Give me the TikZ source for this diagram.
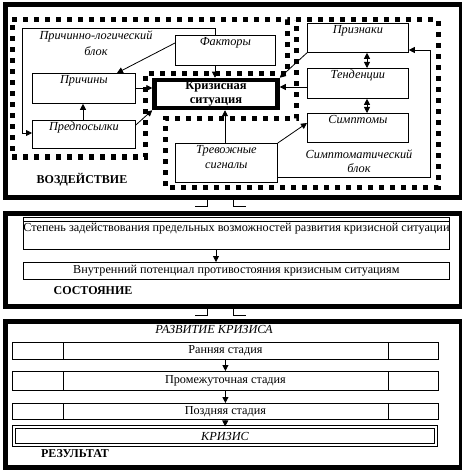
\documentclass[tikz,border=0pt]{standalone}
\usepackage{fontspec}
\setmainfont{Liberation Serif}
\usetikzlibrary{arrows.meta,calc}
\begin{document}
\begin{tikzpicture}[x=1pt,y=-1pt,
  frm/.style={draw, line width=5pt, inner sep=0pt, minimum width=456pt, anchor=north west},
  blk/.style={line width=5pt, dash pattern=on 5pt off 6pt},
  bx/.style={draw, line width=0.8pt, inner sep=0pt, anchor=north west},
  ln/.style={line width=0.8pt},
  arr/.style={ln, -{Triangle[length=6pt,width=6pt]}},
  darr/.style={ln, {Triangle[length=6pt,width=6pt]}-{Triangle[length=6pt,width=6pt]}},
  it/.style={font=\fontsize{12.3}{14}\selectfont\itshape, inner sep=0pt, align=center},
  rm/.style={font=\fontsize{12.2}{14}\selectfont, inner sep=0pt, align=center},
  ttl/.style={font=\fontsize{12}{14}\selectfont\bfseries, inner sep=0pt},
  lab/.style={it, anchor=north, yshift=-2pt}
]
\fill[white] (0,0) rectangle (461,473);
\useasboundingbox (0,0) rectangle (461,473);

% ---------- frame 1 ----------
\node[frm, minimum height=192pt] (f1) at (2.5,2.5) {};
\draw[blk] (12,20) -- (287,20) -- (287,74) -- (145,74) -- (145,157) -- (12,157) -- cycle;
\draw[blk] (296,20) -- (438,20) -- (438,187) -- (165,187) -- (165,119) -- (296,119) -- cycle;

\node[it, anchor=north, align=center, font=\fontsize{12.3}{16}\selectfont\itshape] (plb) at (96,31) {Причинно-логический\\блок};

\node[bx, minimum width=100pt, minimum height=30pt, label={[lab]north:Факторы}] (fak) at (175,35) {};
\node[bx, minimum width=103pt, minimum height=30pt, label={[lab]north:Причины}] (prc) at (32,73) {};
\node[bx, minimum width=103pt, minimum height=28pt, label={[lab]north:Предпосылки}] (prd) at (32,120) {};
\node[draw, line width=4.5pt, minimum width=123pt, minimum height=28pt, inner sep=0pt, align=center,
      font=\fontsize{12.5}{13.5}\selectfont\bfseries] (krz) at (216,94) {Кризисная\\ситуация};
\node[bx, minimum width=102pt, minimum height=39pt, label={[lab, font=\fontsize{12.3}{15}\selectfont\itshape]north:Тревожные\\сигналы}] (trv) at (175,143) {};
\node[bx, minimum width=101pt, minimum height=29pt, label={[lab]north:Признаки}] (prz) at (307,23) {};
\node[bx, minimum width=101pt, minimum height=30pt, label={[lab]north:Тенденции}] (ten) at (307,68) {};
\node[bx, minimum width=101pt, minimum height=29pt, label={[lab]north:Симптомы}] (smp) at (307,113) {};

\node[it, anchor=north] (smb) at (359,150) {Симптоматический\\блок};
\node[ttl] (vozd) at (82,180) {ВОЗДЕЙСТВИЕ};

% arrows frame 1
\draw[arr] (fak.south -| 215,0) -- (krz.north -| 215,0);
\coordinate (fbA) at (215,28);
\coordinate (fbB) at (22,28);
\draw[arr] (fak.north -| 215,0) -- (fbA) -- (fbB) |- (prd.west |- 0,133);
\draw[arr] (fak.west |- 0,43) -- (prc.north -| 117,0);
\draw[arr] (prc.east |- 0,88) -- (krz.west |- 0,88);
\draw[arr] (prd.north -| 83,0) -- (prc.south -| 83,0);
\draw[arr] (prd.east |- 0,125) -- (krz.south west);
\draw[arr] (prz.south west) -- (krz.north east);
\draw[arr] (ten.west |- 0,87) -- (krz.east |- 0,87);
\draw[arr] (trv.north -| 225,0) -- (krz.south -| 225,0);
\draw[arr] (trv.north east) -- (smp.west |- 0,123);
\coordinate (fcA) at (430,177);
\draw[arr] (trv.east |- 0,177) -- (fcA) |- (prz.east |- 0,50);
\draw[darr] (prz.south -| 367,0) -- (ten.north -| 367,0);
\draw[darr] (ten.south -| 367,0) -- (smp.north -| 367,0);

% ---------- frame 2 ----------
\node[frm, minimum height=93pt] (f2) at (2.5,210.5) {};
\node[bx, minimum width=426pt, minimum height=32pt,
      label={[rm, anchor=north, yshift=-6pt]north:Степень задействования предельных возможностей развития кризисной ситуации}] (st) at (23,217) {};
\draw[ln] ($(st.north west)+(0,4)$) -- ($(st.north east)+(0,4)$);
\node[bx, rm, minimum width=426pt, minimum height=17pt] (vn) at (23,262) {Внутренний потенциал противостояния кризисным ситуациям};
\draw[arr] (st.south -| 216,0) -- (vn.north -| 216,0);
\node[ttl] (sost) at (93,291) {СОСТОЯНИЕ};

% connectors between frames
\coordinate (c1a) at (195,206);
\coordinate (c1b) at (246,206);
\draw[ln] (f1.south -| 207,0) |- (c1a);
\draw[ln] (f1.south -| 233,0) |- (c1b);

% ---------- frame 3 ----------
\node[frm, minimum height=146pt] (f3) at (2.5,318.5) {};
\coordinate (c2a) at (195,315);
\coordinate (c2b) at (246,315);
\draw[ln] (f2.south -| 207,0) |- (c2a);
\draw[ln] (f2.south -| 233,0) |- (c2b);

\node[it] (razv) at (214,329) {РАЗВИТИЕ КРИЗИСА};
\node[bx, rm, minimum width=426pt, minimum height=17pt] (r1) at (12,342) {Ранняя стадия};
\node[bx, rm, minimum width=426pt, minimum height=19pt] (r2) at (12,371) {Промежуточная стадия};
\node[bx, rm, minimum width=426pt, minimum height=16pt] (r3) at (12,403) {Поздняя стадия};
\foreach \r in {r1,r2,r3}{
  \draw[ln] ([xshift=51pt]\r.north west) -- ([xshift=51pt]\r.south west);
  \draw[ln] ([xshift=376pt]\r.north west) -- ([xshift=376pt]\r.south west);
}
\node[draw, double, double distance=2pt, line width=0.8pt, inner sep=0pt, minimum width=422.4pt, minimum height=18.4pt,
      it] (krs) at (225,436) {КРИЗИС};
\draw[arr] (r1) -- (r2);
\draw[arr] (r2) -- (r3);
\draw[arr] (r3) -- (krs);
\node[ttl] (rez) at (75,454) {РЕЗУЛЬТАТ};
\end{tikzpicture}
\end{document}
